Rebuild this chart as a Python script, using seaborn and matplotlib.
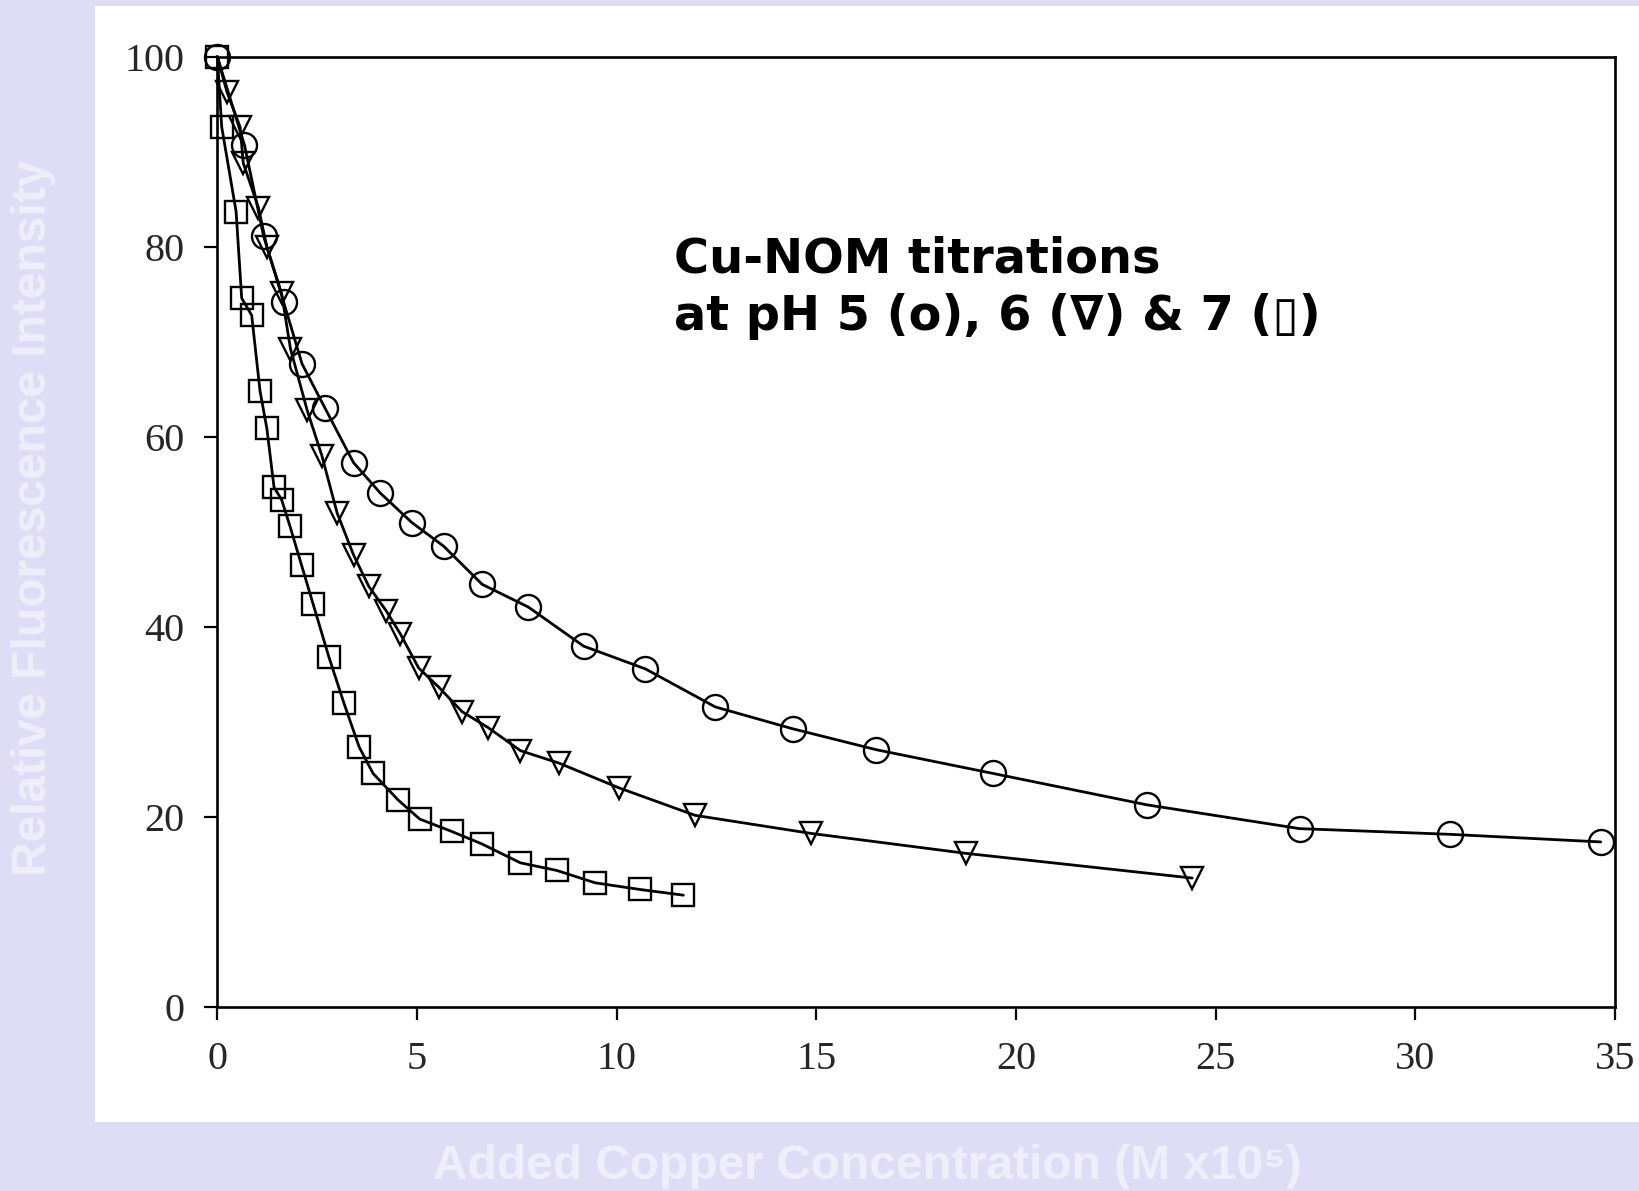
import matplotlib
matplotlib.use("Agg")
import matplotlib.pyplot as plt
from matplotlib.patches import Rectangle
import seaborn as sns

# Cu-NOM titration data (x in M x1e5, y = relative FI %)
ph5_x = [0, 0.68, 1.16, 1.66, 2.12, 2.70, 3.41, 4.08, 4.87, 5.67, 6.63, 7.79, 9.17,
         10.72, 12.47, 14.41, 16.50, 19.43, 23.28, 27.10, 30.87, 34.64]
ph5_y = [100, 90.7, 81.1, 74.2, 67.7, 63.0, 57.3, 54.1, 51.0, 48.5, 44.5, 42.1, 38.0,
         35.6, 31.6, 29.3, 27.1, 24.6, 21.3, 18.8, 18.2, 17.4]

ph6_x = [0, 0.24, 0.57, 0.65, 1.03, 1.24, 1.61, 1.83, 2.25, 2.62, 3.00, 3.41, 3.79,
         4.23, 4.58, 5.04, 5.54, 6.13, 6.79, 7.59, 8.55, 10.05, 11.96, 14.86, 18.74, 24.41]
ph6_y = [100, 96.3, 92.6, 88.8, 84.1, 80.0, 75.1, 69.3, 62.8, 58.0, 52.0, 47.6, 44.3,
         41.7, 39.3, 35.7, 33.7, 31.1, 29.4, 27.0, 25.7, 23.1, 20.2, 18.3, 16.2, 13.6]

ph7_x = [0, 0.11, 0.47, 0.61, 0.86, 1.07, 1.24, 1.42, 1.61, 1.82, 2.11, 2.40, 2.79,
         3.17, 3.55, 3.90, 4.53, 5.07, 5.87, 6.62, 7.59, 8.50, 9.46, 10.58, 11.67]
ph7_y = [100, 92.6, 83.7, 74.6, 72.8, 64.8, 60.9, 54.7, 53.4, 50.6, 46.5, 42.4, 36.9,
         32.0, 27.4, 24.6, 21.8, 19.8, 18.5, 17.2, 15.2, 14.4, 13.1, 12.4, 11.8]

x_ticks = [0, 5, 10, 15, 20, 25, 30, 35]
y_ticks = [0, 20, 40, 60, 80, 100]

BG = "#DEDDF5"
LABEL_COLOR = "#EFEFFB"

sns.set_style("white")
plt.rcParams["font.family"] = ["Liberation Serif", "DejaVu Serif"]

fig = plt.figure(figsize=(16.39, 11.91), dpi=100, facecolor=BG)
# white "slide" panel behind the scanned plot
fig.patches.append(Rectangle((0.058, 0.0582), 0.942, 0.9368, transform=fig.transFigure,
                             facecolor="white", edgecolor="none", zorder=-10))
ax = fig.add_axes([0.1326, 0.1542, 0.8528, 0.7982])
ax.set_facecolor("white")

series = [
    (ph5_x, ph5_y, "o", 18, None),
    (ph6_x, ph6_y, "v", 16.5, slice(1, None)),
    (ph7_x, ph7_y, "s", 15.5, None),
]
for xs, ys, mk, ms, every in series:
    sns.lineplot(x=xs, y=ys, ax=ax, color="black", linewidth=2.0, marker=mk,
                 markersize=ms, markerfacecolor="none", markeredgecolor="black",
                 markeredgewidth=1.7, markevery=every, clip_on=False, zorder=3)

ax.set_xlim(0, 35)
ax.set_ylim(0, 100)
ax.set_xticks(x_ticks)
ax.set_yticks(y_ticks)
ax.tick_params(axis="both", direction="out", length=9.5, width=1.6, labelsize=29,
               color="black", bottom=True, left=True)
ax.tick_params(axis="x", pad=15)
ax.tick_params(axis="y", pad=14)
for s in ax.spines.values():
    s.set_visible(True)
    s.set_linewidth(1.9)
    s.set_color("black")
ax.set_xlabel("")
ax.set_ylabel("")

title_font = dict(family=["DejaVu Sans"], weight="bold", fontsize=34.5, color="black")
ax.text(11.43, 77.35, "Cu-NOM titrations", va="baseline", ha="left", **title_font)
ax.text(11.43, 71.25, "at pH 5 (o), 6 (\u2207) & 7 (\u25af)", va="baseline", ha="left", **title_font)

label_font = dict(family=["Liberation Sans", "DejaVu Sans"], weight="bold", fontsize=34.5,
                  color=LABEL_COLOR)
fig.text(0.529, 0.010, "Added Copper Concentration (M x10\u2075)", ha="center",
         va="baseline", **label_font)
fig.text(0.0205, 0.5655, "Relative Fluorescence Intensity", rotation=90, ha="center",
         va="center", **label_font)

fig.savefig("out.png", dpi=100, facecolor=BG)
plt.close(fig)
print("Saved: out.png")
